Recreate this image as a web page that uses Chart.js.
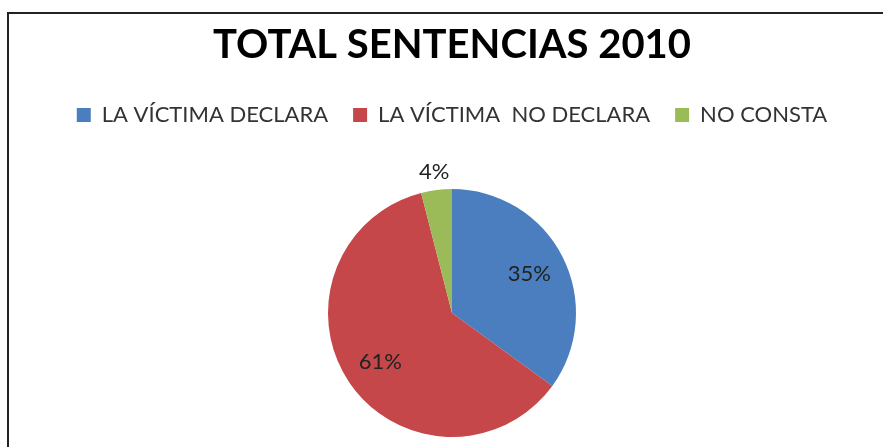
<!DOCTYPE html>
<html>
<head>
<meta charset="utf-8">
<script src="https://cdn.jsdelivr.net/npm/chart.js@4"></script>
<style>
  html, body { margin: 0; padding: 0; background: #fff; overflow: hidden; }
  #wrap { position: relative; width: 883px; height: 447px; }
  #frame {
    position: absolute; left: 7px; top: 12px; width: 1000px; height: 1000px;
    border-left: 2px solid #222; border-top: 2px solid #222;
  }
  #chart { position: absolute; left: 0; top: 0; }
</style>
</head>
<body>
<div id="wrap">
  <div id="frame"></div>
  <canvas id="chart" width="883" height="447"></canvas>
</div>
<script>
const categorias = ['LA VÍCTIMA DECLARA', 'LA VÍCTIMA  NO DECLARA', 'NO CONSTA'];
const porcentajes = [35, 61, 4];
const colores = ['#4A7EBE', '#C6474A', '#9BBB59'];

// espacio extra bajo la leyenda
const espacioLeyenda = {
    id: 'espacioLeyenda',
    beforeInit(chart) {
        const fitOriginal = chart.legend.fit;
        chart.legend.fit = function () {
            fitOriginal.bind(chart.legend)();
            this.height += 53;
        };
    }
};

// etiquetas de porcentaje: dentro del sector, o fuera si es pequeño
const etiquetasPct = {
    id: 'etiquetasPct',
    afterDatasetsDraw(chart) {
        const ctx = chart.ctx;
        const meta = chart.getDatasetMeta(0);
        const total = porcentajes.reduce((a, b) => a + b, 0);
        ctx.save();
        ctx.font = '22px Lato';
        ctx.fillStyle = '#222';
        ctx.textAlign = 'center';
        ctx.textBaseline = 'middle';
        meta.data.forEach((arc, i) => {
            const p = arc.getProps(['x', 'y', 'startAngle', 'endAngle', 'outerRadius'], true);
            const medio = (p.startAngle + p.endAngle) / 2;
            const r = porcentajes[i] / total < 0.1 ? p.outerRadius * 1.15 : p.outerRadius * 0.7;
            ctx.fillText(porcentajes[i] + '%', p.x + Math.cos(medio) * r, p.y + Math.sin(medio) * r);
        });
        ctx.restore();
    }
};

const ctx = document.getElementById('chart').getContext('2d');
const grafico = new Chart(ctx, {
    type: 'pie',
    data: {
        labels: categorias,
        datasets: [{
            data: porcentajes,
            backgroundColor: colores,
            borderWidth: 0
        }]
    },
    options: {
        responsive: false,
        animation: false,
        layout: { padding: { left: 21, right: 0, top: 0, bottom: 10 } },
        plugins: {
            title: {
                display: true,
                text: 'TOTAL SENTENCIAS 2010',
                color: '#000',
                font: { family: 'Lato', size: 40, weight: 'bold' },
                padding: { top: 21, bottom: 10 }
            },
            legend: {
                position: 'top',
                labels: {
                    color: '#333',
                    font: { family: 'Lato', size: 22 },
                    boxWidth: 14,
                    boxHeight: 14,
                    padding: 25
                }
            },
            tooltip: { enabled: false }
        }
    },
    plugins: [espacioLeyenda, etiquetasPct]
});
</script>
</body>
</html>
